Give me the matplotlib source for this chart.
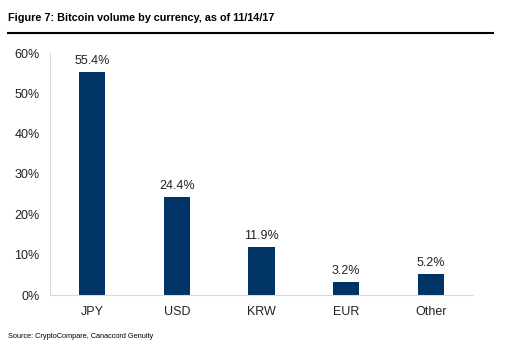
import matplotlib
matplotlib.use("Agg")
import matplotlib.pyplot as plt
from matplotlib.ticker import FuncFormatter

currencies = ['JPY', 'USD', 'KRW', 'EUR', 'Other']
volume_pct = [55.4, 24.4, 11.9, 3.2, 5.2]
yticks = [0, 10, 20, 30, 40, 50, 60]

plt.rcParams['font.family'] = ['Liberation Sans', 'DejaVu Sans']

fig = plt.figure(figsize=(5.08, 3.51), dpi=100)
ax = fig.add_axes([50 / 508, 1 - 295 / 351, 423 / 508, 242 / 351])

x = range(len(currencies))
ax.bar(x, volume_pct, width=0.31, color='#003366', zorder=2)
for i, v in zip(x, volume_pct):
    ax.text(i, v + 1.2, '%.1f%%' % v, ha='center', va='bottom', fontsize=9, color='#222222')

ax.set_xlim(-0.5, len(currencies) - 0.5)
ax.set_ylim(0, 60)
ax.set_yticks(yticks)
ax.yaxis.set_major_formatter(FuncFormatter(lambda v, p: '%d%%' % v))
ax.set_xticks(list(x))
ax.set_xticklabels(currencies)
ax.tick_params(axis='both', length=0, labelsize=9, colors='#222222')
ax.tick_params(axis='x', pad=8)
ax.tick_params(axis='y', pad=7.5)

for s in ['top', 'right']:
    ax.spines[s].set_visible(False)
ax.spines['left'].set_color('#d9d9d9')
ax.spines['bottom'].set_color('#d9d9d9')

fig.text(8 / 508, 1 - 18 / 351, 'Figure 7: Bitcoin volume by currency, as of 11/14/17',
         fontsize=7.8, fontweight='bold', va='center', ha='left')
fig.add_artist(plt.Line2D([8 / 508, 493 / 508], [1 - 33 / 351, 1 - 33 / 351],
                          color='black', linewidth=1.5, transform=fig.transFigure))
fig.text(8 / 508, 1 - 337 / 351, 'Source: CryptoCompare, Canaccord Genuity',
         fontsize=5.3, va='center', ha='left')

fig.savefig('out.png', dpi=100)
